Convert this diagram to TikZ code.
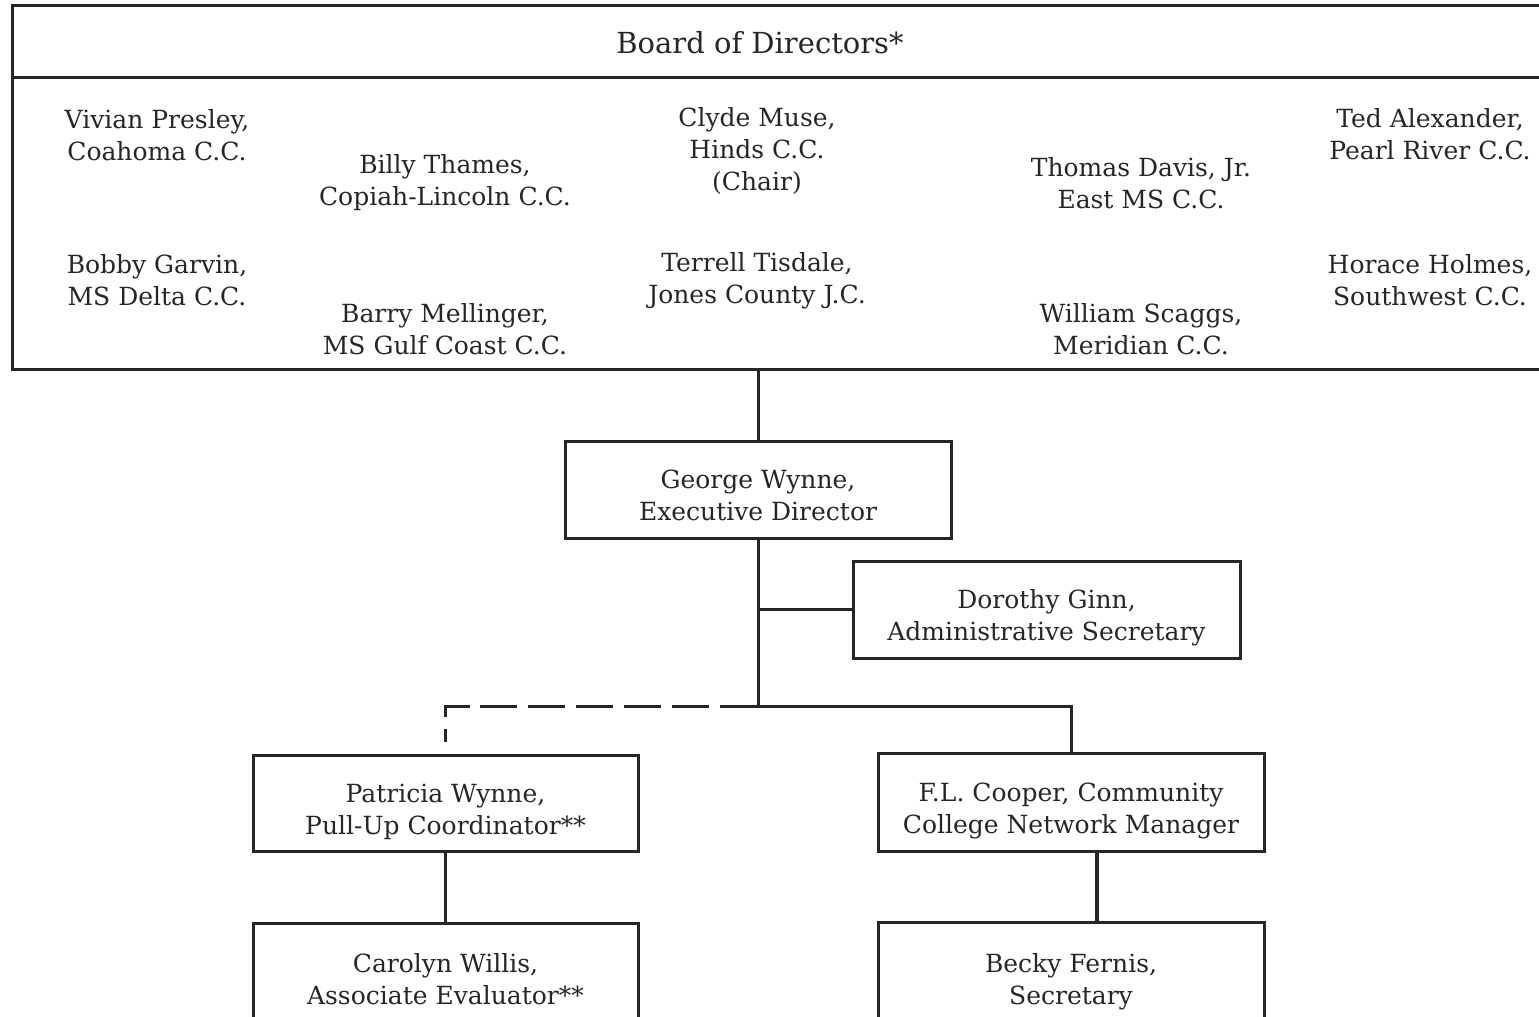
\documentclass[tikz,border=0pt]{standalone}
\usepackage{fontspec}
\setmainfont{DejaVu Serif}
\newcommand{\topstrut}{\rule{0pt}{30pt}}
\begin{document}
\begin{tikzpicture}[x=1pt,y=-1pt,
  every node/.style={font=\fontsize{25}{32}\selectfont, text=black!85},
  box/.style={draw=black!85, line width=3pt, minimum width=386pt, minimum height=97pt, align=center, inner sep=0pt, text depth=0pt},
  member/.style={align=center, inner sep=0pt},
  conn/.style={draw=black!85, line width=3pt},
  dconn/.style={draw=black!85, line width=3pt, dash pattern=on 37pt off 11pt}]
\useasboundingbox (0,0) rectangle (1539,1017);
\clip (0,0) rectangle (1539,1017);
% board
\node[draw=black!85, line width=3pt, minimum width=1533pt, minimum height=364pt, inner sep=0pt] (board) at (778.5,187) {};
\draw[conn] (12,77) -- (1545,77);
\node[member, font=\fontsize{29}{34}\selectfont] (title) at (760,43) {Board of Directors*};
\node[member] (m1) at (157,135) {Vivian Presley,\\Coahoma C.C.};
\node[member] (m2) at (445,183) {Billy Thames,\\Copiah-Lincoln C.C.};
\node[member] (m3) at (757,151) {Clyde Muse,\\Hinds C.C.\\(Chair)};
\node[member] (m4) at (1141,183) {Thomas Davis, Jr.\\East MS C.C.};
\node[member] (m5) at (1430,134) {Ted Alexander,\\Pearl River C.C.};
\node[member] (m6) at (157,280) {Bobby Garvin,\\MS Delta C.C.};
\node[member] (m7) at (445,329) {Barry Mellinger,\\MS Gulf Coast C.C.};
\node[member] (m8) at (757,281) {Terrell Tisdale,\\Jones County J.C.};
\node[member] (m9) at (1141,329) {William Scaggs,\\Meridian C.C.};
\node[member] (m10) at (1430,280) {Horace Holmes,\\Southwest C.C.};
% boxes
\node[box] (ceo) at (758,489.5) {\topstrut George Wynne,\\Executive Director};
\node[box, minimum width=387pt] (sec) at (1046.5,609.5) {\topstrut Dorothy Ginn,\\Administrative Secretary};
\node[box, minimum width=385pt, minimum height=96pt] (pw) at (445.5,803) {\topstrut Patricia Wynne,\\Pull-Up Coordinator**};
\node[box, minimum width=386pt, minimum height=98pt] (flc) at (1071,802) {\topstrut F.L. Cooper, Community\\College Network Manager};
\node[box, minimum width=385pt, minimum height=100pt] (cw) at (445.5,973) {\topstrut Carolyn Willis,\\Associate Evaluator**};
\node[box, minimum width=386pt, minimum height=102pt] (bf) at (1071,973) {\topstrut Becky Fernis,\\Secretary};
% connectors
\coordinate (j) at (758,706);
\coordinate (d) at (720,706);
\coordinate (ds) at (480,706);
\draw[conn] (ceo.north) -- (ceo.north |- board.south);
\draw[conn] (ceo.south) -- (j);
\draw[conn] (ceo.south |- sec.west) -- (sec.west);
\draw[conn] (d) -- (flc.north |- j) -- (flc.north);
\draw[dconn] (ds) -- (d);
\draw[conn, dash pattern=on 13pt off 12pt on 36pt off 100pt] ([yshift=12pt]pw.north) -- (pw.north |- d) -- ++(24pt,0);
\draw[conn, line width=3.6pt] (pw.south) -- (cw.north);
\draw[conn, line width=3.6pt] ([xshift=26pt]flc.south) -- ([xshift=26pt]bf.north);
\end{tikzpicture}
\end{document}
